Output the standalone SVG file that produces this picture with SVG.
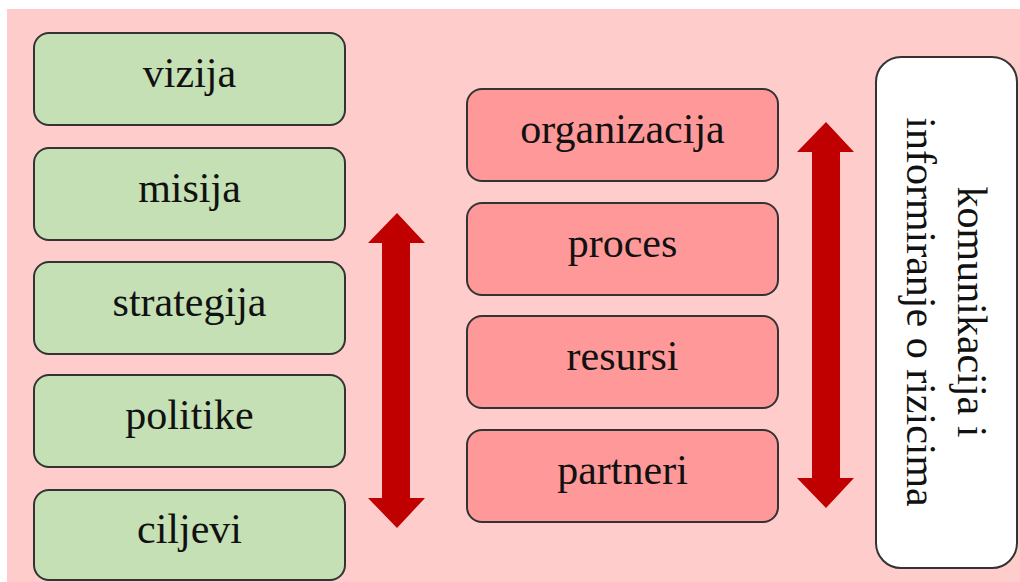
<svg xmlns="http://www.w3.org/2000/svg" width="1020" height="582" viewBox="0 0 1020 582">
<style>
.box{stroke:#333;stroke-width:2}
.g{fill:#c5e0b4}
.r{fill:#ff9999}
.w{fill:#ffffff}
.t{font-family:"Liberation Serif","Times New Roman",serif;font-size:42px;fill:#111;text-anchor:middle}
.arr{fill:#c00000}
</style>
<rect x="7" y="9" width="1013" height="573" fill="#ffcccc"/>
<g id="vizija"><rect class="box g" x="34" y="33" width="311" height="92" rx="15"/><text class="t" x="189.5" y="87">vizija</text></g>
<g id="misija"><rect class="box g" x="34" y="148" width="311" height="92" rx="15"/><text class="t" x="189.5" y="202">misija</text></g>
<g id="strategija"><rect class="box g" x="34" y="262" width="311" height="92" rx="15"/><text class="t" x="189.5" y="316">strategija</text></g>
<g id="politike"><rect class="box g" x="34" y="375" width="311" height="92" rx="15"/><text class="t" x="189.5" y="429">politike</text></g>
<g id="ciljevi"><rect class="box g" x="34" y="490" width="311" height="90" rx="15"/><text class="t" x="189.5" y="543">ciljevi</text></g>
<g id="organizacija"><rect class="box r" x="467" y="89" width="311" height="92" rx="15"/><text class="t" x="622.5" y="143">organizacija</text></g>
<g id="proces"><rect class="box r" x="467" y="203" width="311" height="92" rx="15"/><text class="t" x="622.5" y="257">proces</text></g>
<g id="resursi"><rect class="box r" x="467" y="316" width="311" height="92" rx="15"/><text class="t" x="622.5" y="370">resursi</text></g>
<g id="partneri"><rect class="box r" x="467" y="430" width="311" height="92" rx="15"/><text class="t" x="622.5" y="484">partneri</text></g>
<g id="komunikacija"><rect class="box w" x="876" y="57" width="141" height="511" rx="25"/>
<text class="t" transform="translate(958 312) rotate(90)" x="0" y="0">komunikacija i</text>
<text class="t" transform="translate(907 312) rotate(90)" x="0" y="0">informiranje o rizicima</text></g>
<g id="connectors">
<polygon class="arr" points="397,213 425,243 410,243 410,498 425,498 397,528 368,498 382,498 382,243 368,243"/>
<polygon class="arr" points="826,122 854,152 840,152 840,478 854,478 826,508 797,478 812,478 812,152 797,152"/>
</g>
</svg>
